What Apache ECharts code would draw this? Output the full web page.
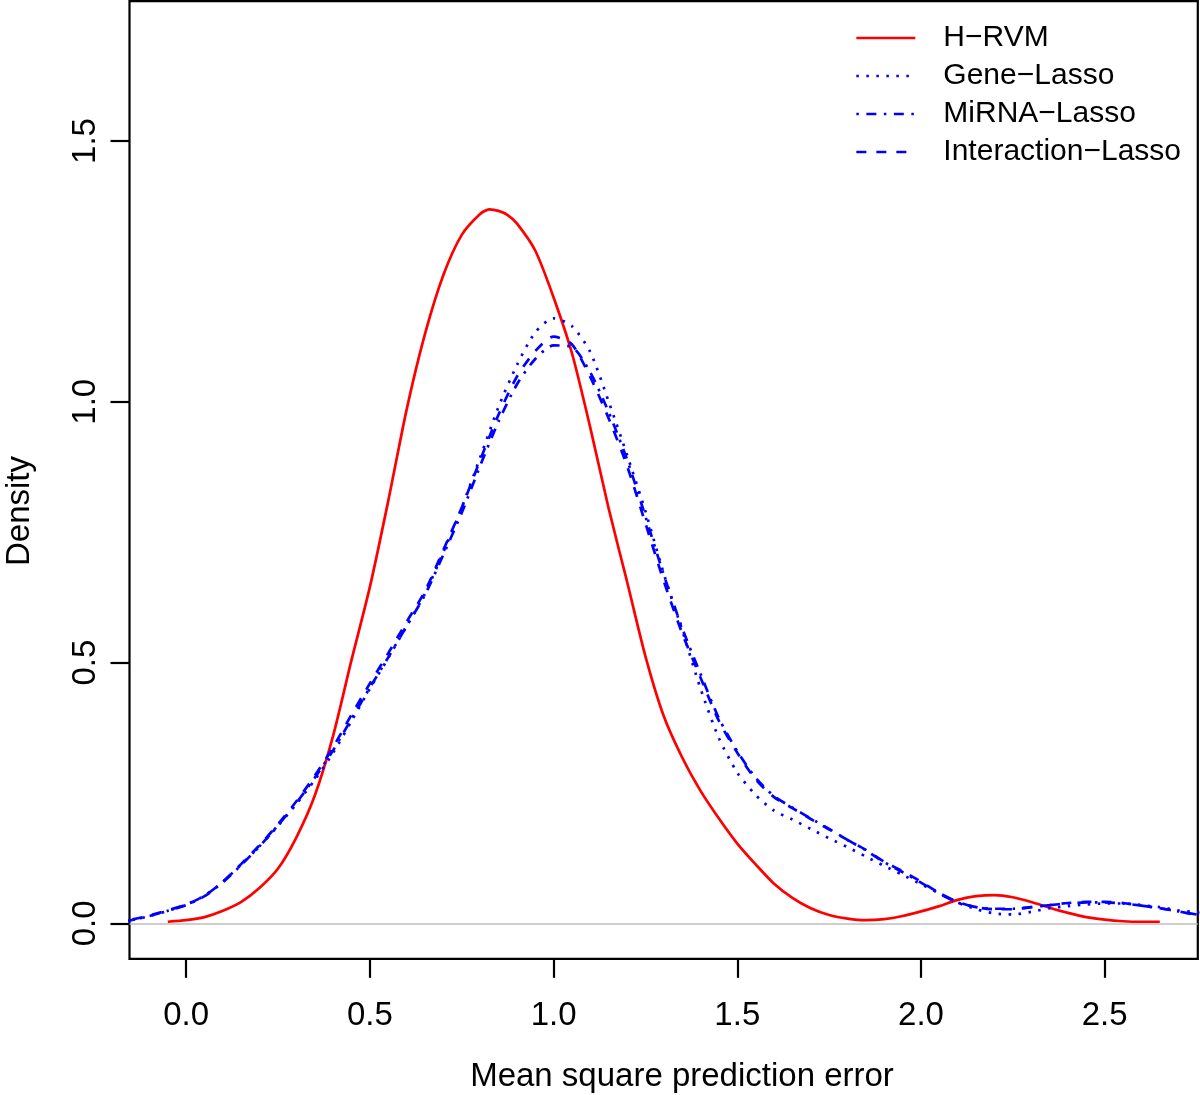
<!DOCTYPE html>
<html>
<head>
<meta charset="utf-8">
<script src="https://cdn.jsdelivr.net/npm/echarts@6/dist/echarts.min.js"></script>
<style>
html,body{margin:0;padding:0;background:#fff;}
#chart{width:1200px;height:1095px;}
</style>
</head>
<body>
<div id="chart"></div>
<script>
// ---- data ----
const seriesNames = ['H\u2212RVM', 'Gene\u2212Lasso', 'MiRNA\u2212Lasso', 'Interaction\u2212Lasso'];
const xTicks = [0.0, 0.5, 1.0, 1.5, 2.0, 2.5];
const yTicks = [0.0, 0.5, 1.0, 1.5];

const redX = [-0.05,0.00,0.05,0.10,0.15,0.20,0.25,0.30,0.35,0.40,0.45,0.50,0.55,0.60,0.65,0.70,0.75,0.80,0.825,0.85,0.875,0.90,0.95,1.00,1.05,1.10,1.15,1.20,1.25,1.30,1.35,1.40,1.45,1.50,1.55,1.60,1.65,1.70,1.75,1.80,1.85,1.90,1.95,2.00,2.05,2.10,2.15,2.20,2.25,2.30,2.35,2.40,2.45,2.50,2.55,2.60,2.65];
const hrvm = [0.003,0.006,0.012,0.024,0.041,0.068,0.105,0.165,0.245,0.360,0.505,0.645,0.810,0.985,1.130,1.243,1.320,1.360,1.369,1.366,1.358,1.342,1.290,1.200,1.093,0.950,0.795,0.655,0.512,0.397,0.318,0.254,0.201,0.153,0.113,0.076,0.049,0.029,0.016,0.009,0.006,0.008,0.014,0.023,0.033,0.045,0.052,0.054,0.050,0.041,0.030,0.020,0.012,0.007,0.004,0.003,0.003];

const blueX = [-0.20,-0.15,-0.10,-0.05,0.00,0.05,0.10,0.15,0.20,0.25,0.30,0.35,0.40,0.45,0.50,0.55,0.60,0.65,0.70,0.75,0.80,0.85,0.90,0.95,1.00,1.05,1.10,1.15,1.20,1.25,1.30,1.35,1.40,1.45,1.50,1.55,1.60,1.65,1.70,1.75,1.80,1.85,1.90,1.95,2.00,2.05,2.10,2.15,2.20,2.25,2.30,2.35,2.40,2.45,2.50,2.55,2.60,2.65,2.70,2.75,2.80];
const geneLasso = [0.003,0.006,0.014,0.024,0.036,0.053,0.080,0.113,0.148,0.187,0.229,0.275,0.327,0.388,0.450,0.509,0.570,0.632,0.712,0.797,0.893,0.990,1.070,1.133,1.160,1.145,1.095,1.000,0.898,0.790,0.670,0.562,0.450,0.355,0.289,0.246,0.216,0.199,0.181,0.163,0.146,0.128,0.110,0.093,0.075,0.058,0.040,0.027,0.019,0.017,0.022,0.029,0.033,0.036,0.038,0.038,0.035,0.031,0.025,0.021,0.016];
const mirnaLasso = [0.003,0.006,0.014,0.024,0.035,0.052,0.079,0.112,0.148,0.188,0.231,0.279,0.332,0.392,0.452,0.510,0.570,0.630,0.707,0.787,0.877,0.962,1.033,1.082,1.108,1.105,1.056,0.980,0.889,0.780,0.668,0.566,0.478,0.393,0.330,0.279,0.244,0.222,0.201,0.181,0.160,0.140,0.117,0.098,0.078,0.057,0.040,0.031,0.028,0.028,0.031,0.035,0.038,0.040,0.040,0.038,0.034,0.029,0.023,0.017,0.012];
const interactionLasso = [0.003,0.007,0.015,0.025,0.036,0.053,0.080,0.114,0.150,0.190,0.234,0.283,0.338,0.400,0.460,0.518,0.578,0.637,0.716,0.797,0.888,0.975,1.048,1.097,1.125,1.110,1.047,0.968,0.877,0.767,0.656,0.556,0.471,0.388,0.327,0.276,0.242,0.221,0.200,0.180,0.160,0.141,0.118,0.100,0.080,0.058,0.041,0.031,0.027,0.027,0.031,0.035,0.039,0.041,0.041,0.039,0.034,0.029,0.023,0.016,0.011];

const xTitle = 'Mean square prediction error';
const yTitle = 'Density';

// ---- build chart ----
const FONT = '"Liberation Sans", Arial, Helvetica, sans-serif';
const zip = (xs, ys) => xs.map((x, i) => [x, ys[i]]);
const fmt = v => v.toFixed(1);
const LW = 2.7;

const chart = echarts.init(document.getElementById('chart'), null, {renderer: 'canvas'});
const lineBase = {type: 'line', symbol: 'none', smooth: 0.25, clip: true, z: 3};

chart.setOption({
  animation: false,
  backgroundColor: '#ffffff',
  grid: {left: 129.5, right: 2.2, top: 1.2, bottom: 136.2, show: true, borderColor: '#000', borderWidth: 2.2, backgroundColor: 'transparent'},
  xAxis: {
    type: 'value', min: -0.1543, max: 2.7534,
    splitLine: {show: false},
    axisLine: {show: false, onZero: false},
    axisTick: {show: true, length: 19, inside: false, customValues: xTicks, lineStyle: {color: '#000', width: 2.2}},
    axisLabel: {show: true, customValues: xTicks, formatter: fmt, margin: 41, fontSize: 33, color: '#000', fontFamily: FONT}
  },
  yAxis: {
    type: 'value', min: -0.068, max: 1.768,
    splitLine: {show: false},
    axisLine: {show: false, onZero: false},
    axisTick: {show: true, length: 19, inside: false, customValues: yTicks, lineStyle: {color: '#000', width: 2.2}},
    axisLabel: {show: true, customValues: yTicks, formatter: fmt, rotate: 90, margin: 27, fontSize: 33, color: '#000', fontFamily: FONT}
  },
  legend: {
    orient: 'vertical', left: 855, top: 23, padding: 0,
    itemWidth: 59, itemHeight: 10, itemGap: 8,
    data: seriesNames,
    itemStyle: {opacity: 0},
    lineStyle: {width: LW},
    textStyle: {fontSize: 30, lineHeight: 30, color: '#000', fontFamily: FONT, padding: [0, 0, 0, 23]}
  },
  series: [
    Object.assign({}, lineBase, {
      name: seriesNames[0], data: zip(redX, hrvm),
      lineStyle: {color: '#ff0000', width: LW, type: 'solid'}, itemStyle: {color: '#ff0000'},
      markLine: {silent: true, symbol: 'none', label: {show: false}, animation: false,
        lineStyle: {color: '#bebebe', width: 1.6, type: 'solid'}, data: [{yAxis: 0}]}
    }),
    Object.assign({}, lineBase, {
      name: seriesNames[1], data: zip(blueX, geneLasso),
      lineStyle: {color: '#0000ff', width: LW, type: [2.5, 7.5], cap: 'butt'}, itemStyle: {color: '#0000ff'}
    }),
    Object.assign({}, lineBase, {
      name: seriesNames[2], data: zip(blueX, mirnaLasso),
      lineStyle: {color: '#0000ff', width: LW, type: [2.5, 7.5, 10, 7.5], cap: 'butt'}, itemStyle: {color: '#0000ff'}
    }),
    Object.assign({}, lineBase, {
      name: seriesNames[3], data: zip(blueX, interactionLasso),
      lineStyle: {color: '#0000ff', width: LW, type: [10, 10], cap: 'butt'}, itemStyle: {color: '#0000ff'}
    })
  ],
  graphic: [
    {type: 'text', x: 682, y: 1077, silent: true,
      style: {text: xTitle, align: 'center', verticalAlign: 'middle', fontSize: 33, fill: '#000', fontFamily: FONT}},
    {type: 'text', x: 20, y: 511, rotation: Math.PI / 2, silent: true,
      style: {text: yTitle, align: 'center', verticalAlign: 'middle', fontSize: 33, fill: '#000', fontFamily: FONT}}
  ]
});
</script>
</body>
</html>
